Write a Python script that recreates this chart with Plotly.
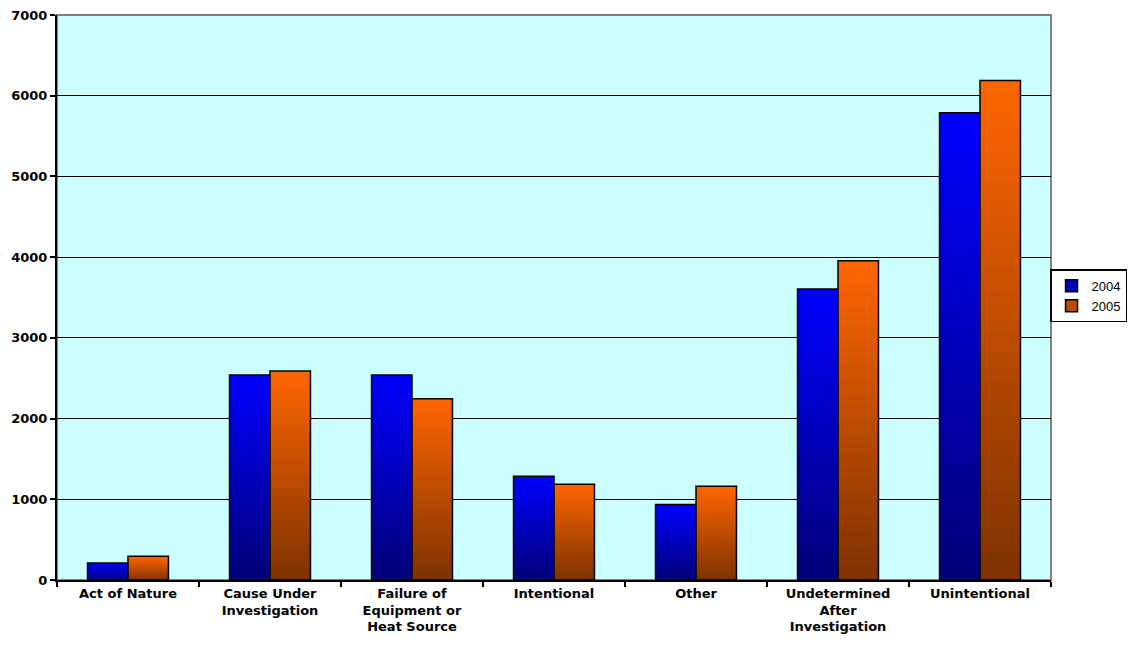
import plotly.graph_objects as go

categories = ["Act of Nature", "Cause Under<br>Investigation", "Failure of<br>Equipment or<br>Heat Source",
              "Intentional", "Other", "Undetermined<br>After<br>Investigation", "Unintentional"]
y2004 = [210, 2540, 2540, 1285, 935, 3605, 5790]
y2005 = [295, 2590, 2245, 1185, 1160, 3955, 6190]
years = ["2004", "2005"]

# couleurs haut / bas du dégradé
top_cols = {"2004": (0, 0, 255), "2005": (255, 102, 0)}
bot_cols = {"2004": (0, 0, 120), "2005": (125, 50, 0)}
N = 40
FONT = "DejaVu Sans"

fig = go.Figure()
for yr, vals in zip(years, [y2004, y2005]):
    t, b = top_cols[yr], bot_cols[yr]
    for k in range(N):
        f = (k + 0.5) / N
        c = tuple(int(round(b[i] + (t[i] - b[i]) * f)) for i in range(3))
        h = 1.8 if k < N - 1 else 1.0  # chevauchement pour éviter les rayures
        fig.add_trace(go.Bar(
            x=categories, y=[v * h / N for v in vals], base=[v * k / N for v in vals],
            offsetgroup=yr, marker=dict(color="rgb(%d,%d,%d)" % c, line=dict(width=0)),
            showlegend=False, hoverinfo="skip"))
    # contour noir
    fig.add_trace(go.Bar(
        x=categories, y=vals, offsetgroup=yr, name=yr,
        marker=dict(color="rgba(0,0,0,0)", line=dict(color="black", width=1.5)),
        showlegend=False))
    # entrée de légende
    mid = tuple(int((t[i] + b[i]) / 2) for i in range(3))
    fig.add_trace(go.Bar(
        x=categories, y=[None] * len(categories), offsetgroup=yr, name=yr,
        marker=dict(color="rgb(%d,%d,%d)" % mid, line=dict(color="black", width=1.5))))

fig.update_layout(
    width=1129, height=654,
    margin=dict(l=57, r=78, t=15, b=74, autoexpand=False),
    barmode="group", bargap=0.43, bargroupgap=0,
    plot_bgcolor="#CCFFFF", paper_bgcolor="white",
    font=dict(family=FONT, size=13, color="black"),
    legend=dict(x=1.0765, y=0.503, xanchor="right", yanchor="middle",
                bordercolor="black", borderwidth=1.5, bgcolor="white",
                font=dict(size=13, family="Liberation Sans, Arial"),
                tracegroupgap=0, itemwidth=30),
    shapes=[dict(type="rect", xref="paper", yref="paper", x0=0, x1=1, y0=0, y1=1,
                 line=dict(color="#808080", width=2), layer="below")],
)
fig.update_xaxes(showline=True, linecolor="black", linewidth=2, ticks="outside",
                 tickson="boundaries", ticklen=5, tickcolor="black", tickwidth=2,
                 tickfont=dict(size=13, family=FONT, weight="bold"),
                 showgrid=False, automargin=False)
fig.update_yaxes(range=[0, 7000], dtick=1000, showline=True, linecolor="black", linewidth=2,
                 ticks="outside", ticklen=5, tickcolor="black", tickwidth=2,
                 showgrid=True, gridcolor="black", gridwidth=1, zeroline=False,
                 tickfont=dict(size=13, family=FONT, weight="bold"), automargin=False)

# pas de marge de page autour de la figure
fig.write_html("out.html", config={"displayModeBar": False},
               post_script="document.body.style.margin='0px';")
